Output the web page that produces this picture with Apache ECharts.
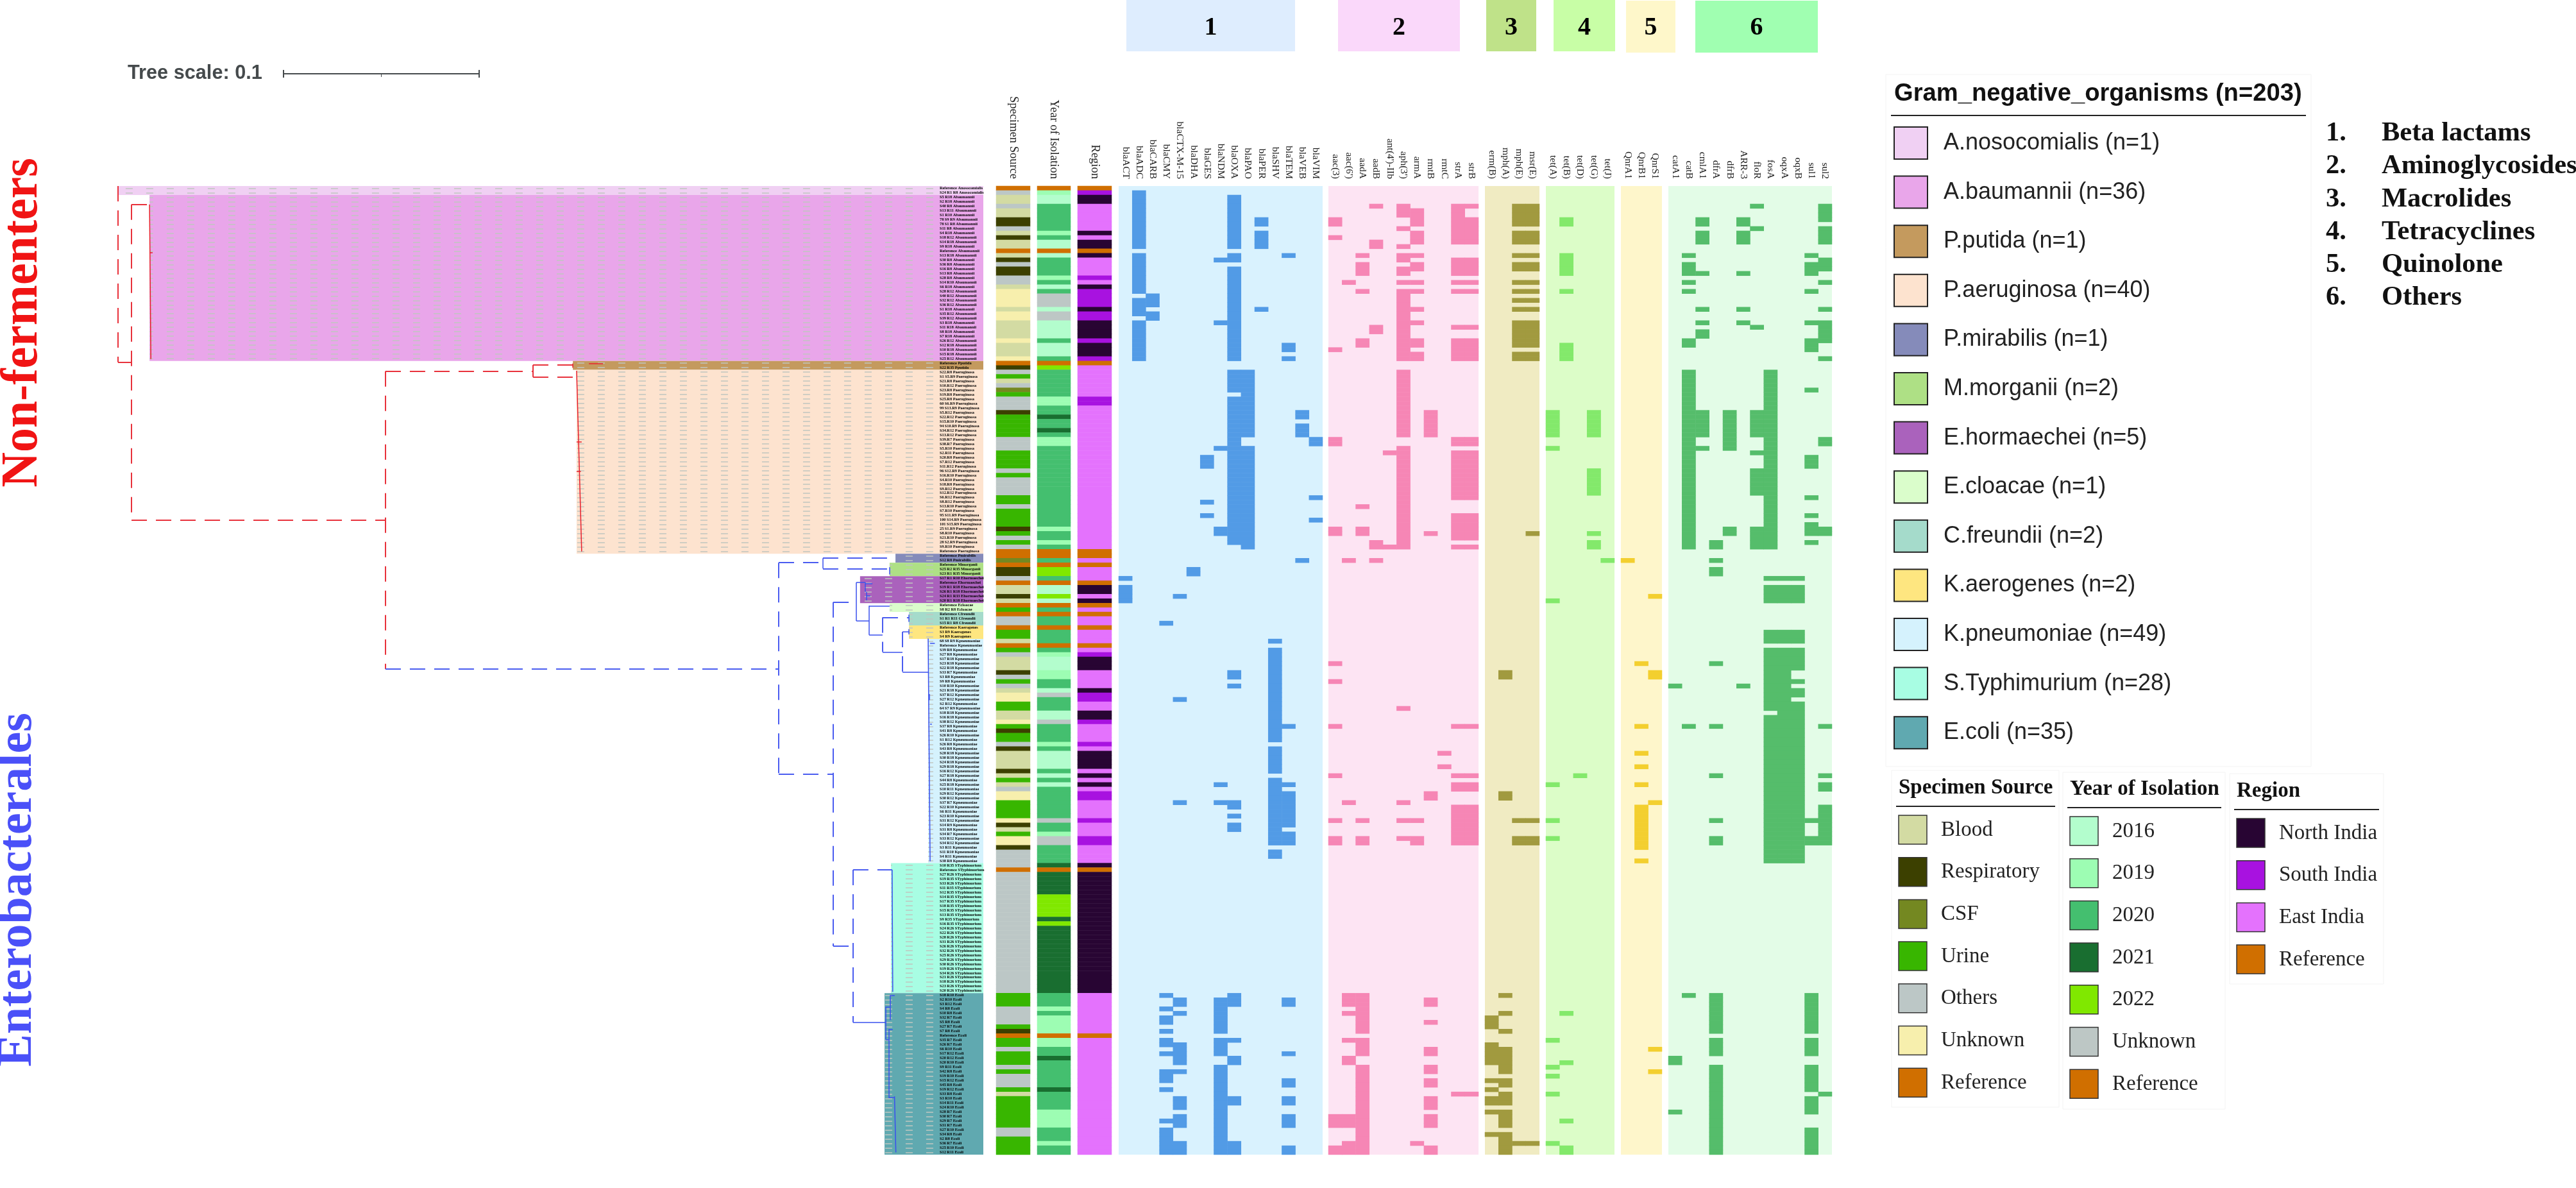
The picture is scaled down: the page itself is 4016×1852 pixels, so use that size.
<!DOCTYPE html>
<html>
<head>
<meta charset="utf-8">
<title>Gram negative organisms</title>
<style>
html, body { margin: 0; padding: 0; background: #fff; }
#main { width: 4016px; height: 1852px; }
</style>
<script src="https://cdn.jsdelivr.net/npm/echarts@6/dist/echarts.min.js"></script>
</head>
<body>
<div id="main"></div>
<script>
// species, in tree order. each one holds its leaves
const nosocomialisLeaves = ['Reference Anosocomialis', 'S24 R1 R8 Anosocomialis'];
const baumanniiLeaves = ['S5 R18', 'S2 R18', 'S40 R8', 'S13 R11', 'S1 R10', '78 S9 R9', '78 S1 R8', 'S11 R8', 'S4 R18', 'S18 R12', 'S14 R18', 'S9 R18', 'Reference', 'S13 R18', 'S30 R8', 'S36 R8', 'S16 R8', 'S13 R8', 'S28 R8', 'S14 R10', 'S6 R18', 'S28 R12', 'S40 R12', 'S32 R12', 'S36 R12', 'S1 R18', 'S35 R12', 'S39 R12', 'S3 R18', 'S11 R18', 'S8 R18', 'S7 R18', 'S26 R12', 'S12 R18', 'S10 R18', 'S15 R18', 'S25 R12'].map(x => x + ' Abaumannii');
const putidaLeaves = ['Reference Pputida', 'S22 R35 Pputida'];
const aeruginosaLeaves = ['S22.R8', 'S1 S5.R9', 'S21.R8', 'S10.R12', 'S23.R8', 'S19.R8', 'S25.R8', '60 S6.R9', '99 S13.R9', 'S5.R12', 'S22.R12', 'S15.R10', '94 S10.R9', 'S34.R12', 'S13.R12', 'S39.R7', 'S38.R7', 'S5.R10', 'S2.R11', 'S20.R8', 'S7.R12', 'S11.R12', '96 S12.R9', 'S16.R10', 'S4.R10', 'S18.R8', 'S9.R12', 'S12.R12', 'S6.R12', 'S8.R12', 'S13.R10', 'S7.R10', '95 S11.R9', '100 S14.R9', '101 S15.R9', '25 S1.R9', 'S8.R10', 'S21.R10', '28 S2.R9', 'S9.R10', 'Reference'].map(x => x + ' Paeruginosa');
const mirabilisLeaves = ['Reference Pmirabilis', 'S12 R8 Pmirabilis'];
const morganiiLeaves = ['Reference Mmorganii', 'S25 R2 R35 Mmorganii', 'S23 R1 R35 Mmorganii'];
const hormaecheiLeaves = ['S17 R1 R10', 'Reference', 'S19 R1 R18', 'S26 R1 R18', 'S24 R1 R33', 'S20 R1 R18'].map(x => x + ' Ehormaechei');
const cloacaeLeaves = ['Reference Ecloacae', 'S8 R2 R8 Ecloacae'];
const freundiiLeaves = ['Reference Cfreundii', 'S1 R1 R11 Cfreundii', 'S15 R1 R8 Cfreundii'];
const aerogenesLeaves = ['Reference Kaerogenes', 'S3 R9 Kaerogenes', 'S4 R9 Kaerogenes'];
const pneumoniaeLeaves = ['68 S8 R9', 'Reference', 'S39 R8', 'S27 R8', 'S17 R18', 'S23 R18', 'S22 R18', 'S33 R7', 'S3 R8', 'S9 R8', 'S10 R10', 'S21 R18', 'S37 R12', 'S27 R12', 'S2 R12', '64 S7 R9', 'S18 R18', 'S16 R18', 'S38 R12', 'S37 R8', 'S41 R8', 'S26 R10', 'S1 R12', 'S26 R8', 'S43 R8', 'S28 R18', 'S30 R18', 'S24 R18', 'S29 R18', 'S16 R12', 'S27 R18', 'S44 R8', 'S25 R18', 'S10 R11', 'S29 R12', 'S30 R12', 'S37 R7', 'S22 R10', 'S6 R11', 'S23 R10', 'S31 R12', 'S14 R9', 'S31 R8', 'S34 R7', 'S33 R12', 'S34 R12', 'S3 R11', 'S11 R10', 'S4 R11', 'S38 R8'].map(x => x + ' Kpneumoniae');
const typhimuriumLeaves = ['S10 R35', 'Reference', 'S27 R26', 'S19 R35', 'S33 R26', 'S11 R35', 'S12 R35', 'S14 R35', 'S17 R35', 'S18 R35', 'S15 R35', 'S13 R35', 'S9 R35', 'S16 R35', 'S24 R26', 'S22 R26', 'S28 R26', 'S31 R26', 'S26 R26', 'S32 R26', 'S25 R26', 'S29 R26', 'S30 R26', 'S19 R26', 'S34 R26', 'S21 R26', 'S18 R26', 'S23 R26', 'S20 R26'].map(x => x + ' STyphimurium');
const coliLeaves = ['S18 R10', 'S2 R10', 'S3 R12', 'S4 R8', 'S10 R8', 'S32 R7', 'S5 R8', 'S27 R7', 'S7 R8', 'Reference', 'S35 R7', 'S26 R7', 'S6 R10', 'S17 R12', 'S20 R12', 'S20 R10', 'S9 R11', 'S42 R8', 'S19 R10', 'S15 R12', 'S45 R8', 'S19 R12', 'S33 R8', 'S3 R10', 'S14 R11', 'S24 R10', 'S28 R7', 'S30 R7', 'S29 R7', 'S31 R7', 'S27 R10', 'S34 R8', 'S2 R8', 'S36 R7', 'S25 R10', 'S12 R11'].map(x => x + ' Ecoli');

const cladeLeaves = [nosocomialisLeaves, baumanniiLeaves, putidaLeaves, aeruginosaLeaves, mirabilisLeaves, morganiiLeaves, hormaecheiLeaves, cloacaeLeaves, freundiiLeaves, aerogenesLeaves, pneumoniaeLeaves, typhimuriumLeaves, coliLeaves];
const cladeNames = ['A.nosocomialis (n=1)', 'A.baumannii (n=36)', 'P.putida (n=1)', 'P.aeruginosa (n=40)', 'P.mirabilis (n=1)', 'M.morganii (n=2)', 'E.hormaechei (n=5)', 'E.cloacae (n=1)', 'C.freundii (n=2)', 'K.aerogenes (n=2)', 'K.pneumoniae (n=49)', 'S.Typhimurium (n=28)', 'E.coli (n=35)'];
const cladeColors = ['#f0d0f3', '#e9a6ea', '#c49a5e', '#fde3cf', '#858bba', '#aee085', '#aa62bc', '#dafdcb', '#a5dbcb', '#fee680', '#d5f2fd', '#a8fde3', '#60a9b0'];
// branch length at which each coloured clade begins
const cladeDepth = [0, 0.0161, 0.2325, 0.2344, 0.3974, 0.3944, 0.3793, 0.3944, 0.4043, 0.4043, 0.4141, 0.3951, 0.3918];

const rowNames = cladeLeaves.flat();

// per row metadata, letter + repeat count, rows run top to bottom
const specimenNames = ['Blood', 'Respiratory', 'CSF', 'Urine', 'Others', 'Unknown', 'Reference'];
const specimenCodes = 'BRCUOKF';
const specimenColors = ['#d3dba3', '#3c4000', '#748821', '#38b600', '#bcc7c6', '#f7efad', '#d06f00'];
const specimenRuns = 'F O B2 O B2 R2 O B R B2 F B R O R2 O2 B K4 B K2 B4 K B3 K ' +
    'F R O U B O C U O3 R U5 O3 U4 O U O4 U2 O U4 R U O U O F2 C F R2 O F B2 R B F U F O2 F U2 B ' +
    'F U O B3 R O U O B K2 U2 B2 K U R U2 O R B4 R B U B O K2 U4 K R B U K2 R O4 F O27 ' +
    'U3 O4 U R F U2 O U3 O U O3 U B U7 O2 U4';

const yearNames = ['2016', '2019', '2020', '2021', '2022', 'Unknown', 'Reference'];
const yearCodes = 'abcdeKF';
const yearColors = ['#b3fdcd', '#9dfdb3', '#44bf6f', '#196e30', '#80e800', '#bdc7c5', '#d06f00'];
const yearRuns = 'F b a2 c6 b c a2 F a c4 b c a c K3 a K2 a4 c a3 c ' +
    'F e c6 b2 c2 d c2 d c b2 c18 b c2 b c F2 c F e2 c F a2 e a F c F c2 F c3 ' +
    'F c b a3 b2 c2 a K c c2 a2 K c4 b c a4 c a c a c7 K c2 b K2 c4 d F d5 e5 d e d15 ' +
    'c3 b c b4 F b2 c2 d c6 d c4 b4 c3 b c2';

const regionNames = ['North India', 'South India', 'East India', 'Reference'];
const regionCodes = 'NSEF';
const regionColors = ['#280533', '#a812e0', '#e472fd', '#d06f00'];
const regionRuns = 'F S N2 E6 N E N2 F N E4 S E N S4 N S2 N4 S N3 S ' +
    'F E7 S2 E32 F2 E F E3 F N2 E N F E F E2 F E3 ' +
    'F E S N3 E4 N S2 E2 N2 S E4 S E N4 E N E N E S2 E4 S E3 S2 E4 N F N27 ' +
    'E9 F E26';

// resistance genes, rows carrying each gene
const betaLactamGenes = ['blaACT', 'blaADC', 'blaCARB', 'blaCMY', 'blaCTX-M-15', 'blaDHA', 'blaGES', 'blaNDM', 'blaOXA', 'blaPAO', 'blaPER', 'blaSHV', 'blaTEM', 'blaVEB', 'blaVIM'];
const betaLactamRows = ['87 89-92', '1-13 15-23 25-28 30-38', '24-26 28-29', '97 180 183 185-186 188 190-191 193 197-199 201 208 210-215', '91 114 137 181-182 184 191-195 197 203-205 207-209 213-215', '85-86', '60-62 70 73', '16 30 58 76-77 133 137 181-188 190-193 196-215', '2-13 15-16 18-38 41-45 47-79 108-109 111 137-138 140 142-143 180-182 190 194-195 203-204 213-215', '41-55 58-80', '7-8 10-13 27', '101 103-123 125-130 132-146 148-149', '15 35-36 38 120 133 135-142 144-146 181-182 193 199-200 203-204 207-209 214-215', '50-51 53-55 83', '56-57 69 74'];

const aminoglycosideGenes = ['aac(3)', "aac(6')", 'aadA', 'aadB', "ant(4')-IIb", "aph(3')", 'armA', 'rmtB', 'rmtC', 'strA', 'strB'];
const aminoglycosideRows = ['7-8 11 36 56-57 76-77 106 110 120 131 141 145-146 207-209 214-215', '21 83 137 180-182 184 190 194-195 207-209 213-215', '15 17-19 23 34-35 71 76-77 141 145-146 180-188 190-193 196-215', '4 12-13 31-32 79-80 83', '59 80', '4-6 9 13 15-16 18-19 21 23-38 41-55 58-80 116 137 141 145', '5-8 10-12 15 17-18 21 23 27 30 34-35 37-38 141 145-146 213', '50-55 77 135-136 181-182 186 192-193 196-197 199-200 203-205 207-209 214-215', '126 129', '4-12 16-19 21 23 31 34-38 56-57 59-69 73-78 80 120 131 133-134 138-146 202', '4 7-12 16-19 21 23 31 34-38 56-57 59-69 73-78 80 120 131 133-134 138-146 202'];

const macrolideGenes = ['erm(B)', 'mph(A)', 'mph(E)', 'msr(E)'];
const macrolideRows = ['185-187 191-195 199 201 203-204 206 211', '108-109 135-136 180 184 188 192-197 199-200 202-204 206-209 211-215', '4-8 10-12 15 17-18 21 23 25 27 30-35 37-38 141 145-146 213', '4-8 10-12 15 17-18 21 23 25 27 30-35 37-38 77 141 145-146 213'];

const tetracyclineGenes = ['tet(A)', 'tet(B)', 'tet(D)', 'tet(G)', 'tet(J)'];
const tetracyclineRows = ['50-55 58 92 133 141 145 190 196 198 202 213', '7-8 15-19 23 35-38 184 195 208 214-215', '131', '50-55 63-68 77 79-80', '83'];

const quinoloneGenes = ['QnrA1', 'QnrB1', 'QnrS1'];
const quinoloneRows = ['83', '106 120 126 129 133 138-147 150', '91 108-109 137 192 197'];

const otherGenes = ['catA1', 'catB', 'cmlA1', 'dfrA', 'dfrB', 'ARR-3', 'floR', 'fosA', 'oqxA', 'oqxB', 'sul1', 'sul2'];
const otherRows = ['111 194-195 206', '15 17-19 21 23 34-35 41-80 120 180', '7-8 10-12 19 27 30 32-33 50-55 58', '79-80 83 85-86 106 120 131 141 145-146 180-188 190-193 196-215', '50-58 76-77', '7-8 10-12 19 27 30 111', '4 9 31 50-55 59 63-68 76-80', '41-80 87 89-92 99-101 103-116 118-150', '87 89-92 99-101 103-150', '87 89-92 99-101 103-107 110 112-113 115-150', '15 17-19 23 30 34-36 45 60-62 69 73 75-77 79 141 145-146 180-188 190-193 196-201 203-206 210-215', '4-7 9-12 16-18 21 27 30-34 38 56-57 76-77 120 131 133-134 138-146 202'];

// tree branches as [length0, row0, length1, row1]
const redDashed = [[0, 0, 0, 39.3], [0, 39.3, 0.0069, 39.3], [0.0069, 4.1, 0.0069, 74.5], [0.0069, 4.1, 0.0161, 4.1], [0.0069, 74.5, 0.1367, 74.5], [0.1367, 41.3, 0.1367, 107.7], [0.1367, 41.3, 0.2121, 41.3], [0.2121, 39.9, 0.2121, 42.6], [0.2121, 39.9, 0.2325, 39.9], [0.2121, 42.6, 0.2344, 42.6]];
const redSolid = [[0.0161, 4.1, 0.0168, 38.6], [0.0161, 14.9, 0.0177, 14.9], [0.2344, 41.2, 0.2370, 81.5], [0.2344, 57, 0.2370, 57], [0.2344, 63.6, 0.2366, 63.6], [0.2325, 39.6, 0.2325, 40.5], [0.2407, 39.6, 0.2479, 39.6]];
const blueDashed = [[0.1367, 107.7, 0.3377, 107.7], [0.3377, 84, 0.3377, 131.1], [0.3377, 84, 0.3603, 84], [0.3377, 131.1, 0.3656, 131.1], [0.3603, 83, 0.3974, 83], [0.3603, 85.3, 0.3944, 85.3], [0.3656, 92.8, 0.3656, 169.5], [0.3656, 92.8, 0.3774, 92.8], [0.3656, 169.5, 0.3757, 169.5], [0.3757, 152.5, 0.3757, 186.5], [0.3757, 152.5, 0.3957, 152.5], [0.3908, 96.2, 0.3908, 103.9], [0.3908, 96.2, 0.4043, 96.2], [0.4010, 99.4, 0.4010, 108.4]];
const blueSolid = [[0.3603, 83, 0.3603, 85.3], [0.3944, 85, 0.3944, 86.6], [0.3774, 88.4, 0.3774, 97], [0.3774, 88.4, 0.3820, 88.4], [0.3774, 97, 0.3839, 97], [0.3839, 93.6, 0.3839, 100.1], [0.3839, 93.6, 0.3944, 93.6], [0.3839, 100.1, 0.3908, 100.1], [0.3908, 103.9, 0.4010, 103.9], [0.4010, 99.4, 0.4043, 99.4], [0.4010, 108.4, 0.4141, 108.4], [0.3820, 88.4, 0.3820, 90.5], [0.3820, 88.7, 0.3856, 88.7], [0.3826, 90.5, 0.3826, 92.4], [0.3826, 91.4, 0.3845, 91.4], [0.4043, 95.6, 0.4043, 97.2], [0.4043, 98.8, 0.4043, 100], [0.4141, 100.9, 0.4151, 150.6], [0.4151, 102, 0.4175, 102], [0.4146, 113.3, 0.4146, 114.6], [0.4151, 120, 0.4160, 120], [0.3957, 152.5, 0.3960, 179.7], [0.3757, 186.5, 0.3925, 186.5], [0.3925, 183, 0.3925, 190.3], [0.3925, 183, 0.3946, 183], [0.3946, 180.5, 0.3946, 186], [0.3946, 180.5, 0.3970, 180.5], [0.3925, 190.3, 0.3939, 190.3], [0.3939, 188, 0.3939, 203.3], [0.3939, 188, 0.3960, 188], [0.3939, 203.3, 0.3969, 203.3], [0.3969, 203, 0.3976, 215.5]];

const treeMax = 0.4423;    // width of the tree panel in branch length units
const guideEnd = 0.4167;

function expandRuns(runs, codes) {
    let out = [];
    for (let tok of runs.split(' ')) {
        let n = Number(tok.slice(1) || 1);
        let idx = codes.indexOf(tok[0]);
        for (let i = 0; i < n; i++) out.push(idx);
    }
    return out;
}

function expandRows(text) {
    let out = [];
    for (let part of text.split(' ')) {
        let [a, b] = part.split('-').map(Number);
        if (b === undefined) b = a;
        for (let i = a; i <= b; i++) out.push(i);
    }
    return out;
}

const TOP = 290, HEIGHT = 1510;
const grids = [], xAxes = [], yAxes = [], series = [];

// one grid + category axes per strip of columns
function addBlock(left, width, names, cells, bg, labelFont) {
    let idx = grids.length;
    grids.push({ left: left, top: TOP, width: width, height: HEIGHT, show: !!bg, backgroundColor: bg || 'transparent', borderWidth: 0 });
    xAxes.push({
        gridIndex: idx, type: 'category', position: 'top', data: names,
        axisLine: { show: false }, axisTick: { show: false },
        axisLabel: Object.assign({ rotate: 90, interval: 0, margin: 11, color: '#222', fontFamily: 'Liberation Serif' }, labelFont)
    });
    yAxes.push({ gridIndex: idx, type: 'category', inverse: true, data: rowNames, show: false });
    series.push({
        type: 'heatmap', xAxisIndex: idx, yAxisIndex: idx, data: cells, silent: true,
        progressive: 0, animation: false
    });
}

function metaCells(runs, codes, colors) {
    return expandRuns(runs, codes).map((c, row) => ({ value: [0, row, 1], itemStyle: { color: colors[c] } }));
}

function geneCells(rows, color) {
    let cells = [];
    rows.forEach((text, col) => {
        for (let row of expandRows(text)) cells.push({ value: [col, row, 1], itemStyle: { color: color } });
    });
    return cells;
}

const metaFont = { fontSize: 18.5, color: '#222' };
const geneFont = { fontSize: 15.5 };
addBlock(1553, 53, ['Specimen Source'], metaCells(specimenRuns, specimenCodes, specimenColors), null, metaFont);
addBlock(1617, 52, ['Year of Isolation'], metaCells(yearRuns, yearCodes, yearColors), null, metaFont);
addBlock(1680, 53, ['Region'], metaCells(regionRuns, regionCodes, regionColors), null, metaFont);
addBlock(1744, 318, betaLactamGenes, geneCells(betaLactamRows, '#529be6'), '#d9f2fe', geneFont);
addBlock(2071, 234, aminoglycosideGenes, geneCells(aminoglycosideRows, '#f686b5'), '#fde4f3', geneFont);
addBlock(2315, 85, macrolideGenes, geneCells(macrolideRows, '#a19a3f'), '#f0ebc2', geneFont);
addBlock(2410, 107, tetracyclineGenes, geneCells(tetracyclineRows, '#83e96b'), '#dcfdc8', geneFont);
addBlock(2527, 64, quinoloneGenes, geneCells(quinoloneRows, '#f3cf2f'), '#fef6cb', geneFont);
addBlock(2601, 255, otherGenes, geneCells(otherRows, '#55bd6b'), '#e3fce7', geneFont);

// tree panel: value x in branch length, labels on one y axis, row positions on another
const treeGrid = grids.length;
grids.push({ left: 184, top: TOP, width: 1349, height: HEIGHT });
xAxes.push({ gridIndex: treeGrid, type: 'value', min: 0, max: treeMax, show: false });
yAxes.push({
    gridIndex: treeGrid, type: 'category', inverse: true, position: 'right', data: rowNames, z: 10,
    axisLine: { show: false }, axisTick: { show: false },
    axisLabel: { inside: true, interval: 0, margin: 68, align: 'left', fontSize: 6.3, fontWeight: 'bold', color: '#000', fontFamily: 'Liberation Serif', hideOverlap: false }
});
const rowAxis = yAxes.length;
yAxes.push({ gridIndex: treeGrid, type: 'value', inverse: true, min: 0, max: 216, show: false });

let cladeRects = [];
let guides = [];
let startRow = 0;
cladeLeaves.forEach((leaves, i) => {
    cladeRects.push([cladeDepth[i], startRow, startRow + leaves.length, i]);
    leaves.forEach((_, k) => {
        // drawn from the label end so the dashes line up in columns
        guides.push({ coords: [[guideEnd, startRow + k + 0.5], [cladeDepth[i], startRow + k + 0.5]] });
    });
    startRow += leaves.length;
});

series.push({
    type: 'custom', xAxisIndex: treeGrid, yAxisIndex: rowAxis, data: cladeRects, silent: true, z: 1,
    encode: { x: 0, y: [1, 2] },
    renderItem: function (params, api) {
        let p0 = api.coord([api.value(0), api.value(1)]);
        let p1 = api.coord([treeMax, api.value(2)]);
        return { type: 'rect', shape: { x: p0[0], y: p0[1], width: p1[0] - p0[0], height: p1[1] - p0[1] }, style: { fill: cladeColors[api.value(3)] } };
    }
});

function branchSeries(branches, color, dash, width) {
    return {
        type: 'lines', coordinateSystem: 'cartesian2d', xAxisIndex: treeGrid, yAxisIndex: rowAxis, silent: true, z: 3,
        lineStyle: { color: color, width: width, type: dash, opacity: 1, curveness: 0 },
        data: branches.map(b => ({ coords: [[b[0], b[1]], [b[2], b[3]]] }))
    };
}
series.push(Object.assign(branchSeries([], '#c0c6c0', [11, 21], 1.5), { data: guides, z: 2 }));
series.push(branchSeries(redDashed, '#e8323c', [24, 14], 2));
series.push(branchSeries(redSolid, '#e8202c', 'solid', 1.5));
series.push(branchSeries(blueDashed, '#4a5cf0', [24, 14], 2));
series.push(branchSeries(blueSolid, '#3a50ee', 'solid', 1.5));

// everything that is not data: header boxes, legends, side titles
const headerBoxes = [['1', 1756, 2019, 0, 80, '#deedfe'], ['2', 2086, 2276, 0, 80, '#fad8fa'], ['3', 2317, 2395, 0, 80, '#bfe289'], ['4', 2422, 2518, 0, 80, '#c8fea6'], ['5', 2535, 2612, 1, 82, '#fef7ca'], ['6', 2643, 2834, 1, 82, '#a0ffb1']];
const classNames = ['Beta lactams', 'Aminoglycosides', 'Macrolides', 'Tetracyclines', 'Quinolone', 'Others'];

const graphics = [];
function addText(text, x, y, font, fill, align, rotation, scaleX) {
    graphics.push({
        type: 'text', x: x, y: y, rotation: rotation || 0, scaleX: scaleX || 1, silent: true,
        style: { text: text, font: font, fill: fill, align: align || 'left', verticalAlign: 'middle' }
    });
}
function addRect(x, y, w, h, fill, stroke, lw) {
    graphics.push({ type: 'rect', silent: true, shape: { x: x, y: y, width: w, height: h }, style: { fill: fill, stroke: stroke || null, lineWidth: lw || 0 } });
}

for (let b of headerBoxes) {
    addRect(b[1], b[3], b[2] - b[1], b[4] - b[3], b[5]);
    addText(b[0], (b[1] + b[2]) / 2, 44, 'bold 40px "Liberation Serif"', '#000', 'center');
}

// gram negative legend
addRect(2940, 116, 663, 1079, 'transparent', '#f3f3f3', 1);
addText('Gram_negative_organisms (n=203)', 2953, 146, 'bold 38.2px "Liberation Sans"', '#111');
addRect(2948, 179, 647, 2, '#222');
cladeNames.forEach((name, i) => {
    let cy = 223 + i * 76.6;
    addRect(2953, cy - 25, 52, 50, cladeColors[i], '#222', 2);
    addText(name, 3030, cy, '36px "Liberation Sans"', '#222');
});

classNames.forEach((name, i) => {
    let cy = 208 + i * 51.3;
    addText((i + 1) + '.', 3626, cy, 'bold 42.5px "Liberation Serif"', '#111');
    addText(name, 3713, cy, 'bold 42.5px "Liberation Serif"', '#111');
});

function smallLegend(title, names, colors, boxX, boxY, boxW, boxH, x, titleY, ruleX, ruleW, ruleY, swatchY) {
    addRect(boxX, boxY, boxW, boxH, 'transparent', '#f3f3f3', 1);
    addText(title, x, titleY, 'bold 33px "Liberation Serif"', '#111');
    addRect(ruleX, ruleY, ruleW, 2, '#222');
    names.forEach((name, i) => {
        let sy = swatchY + i * 65.7;
        addRect(x, sy, 44, 45, colors[i], '#333', 1.5);
        addText(name, x + 66, sy + 23, '33px "Liberation Serif"', '#222');
    });
}
smallLegend('Specimen Source', specimenNames, specimenColors, 2949, 1201, 261, 525, 2960, 1228, 2956, 248, 1256, 1271);
smallLegend('Year of Isolation', yearNames, yearColors, 3216, 1204, 253, 525, 3227, 1230, 3223, 240, 1258, 1273);
smallLegend('Region', regionNames, regionColors, 3476, 1206, 240, 328, 3487, 1233, 3483, 226, 1261, 1276);

// tree scale
addText('Tree scale: 0.1', 199, 115, 'bold 30.7px "Liberation Sans"', '#454a4c');
addRect(442, 114, 305, 2, '#454a4c');
addRect(441, 109, 2, 12, '#454a4c');
addRect(746, 109, 2, 12, '#454a4c');
addRect(594, 115, 1, 5, '#454a4c');

addText('Non-fermenters', 36, 503, 'bold 80px "Liberation Serif"', '#f01414', 'center', Math.PI / 2, 0.947);
addText('Enterobacterales', 28, 1387, 'bold 76px "Liberation Serif"', '#4a50f8', 'center', Math.PI / 2);

let myChart = echarts.init(document.getElementById('main'), null, { renderer: 'canvas' });
myChart.setOption({
    animation: false,
    backgroundColor: '#fff',
    tooltip: { show: false },
    grid: grids,
    xAxis: xAxes,
    yAxis: yAxes,
    series: series,
    graphic: { elements: graphics }
});
</script>
</body>
</html>
